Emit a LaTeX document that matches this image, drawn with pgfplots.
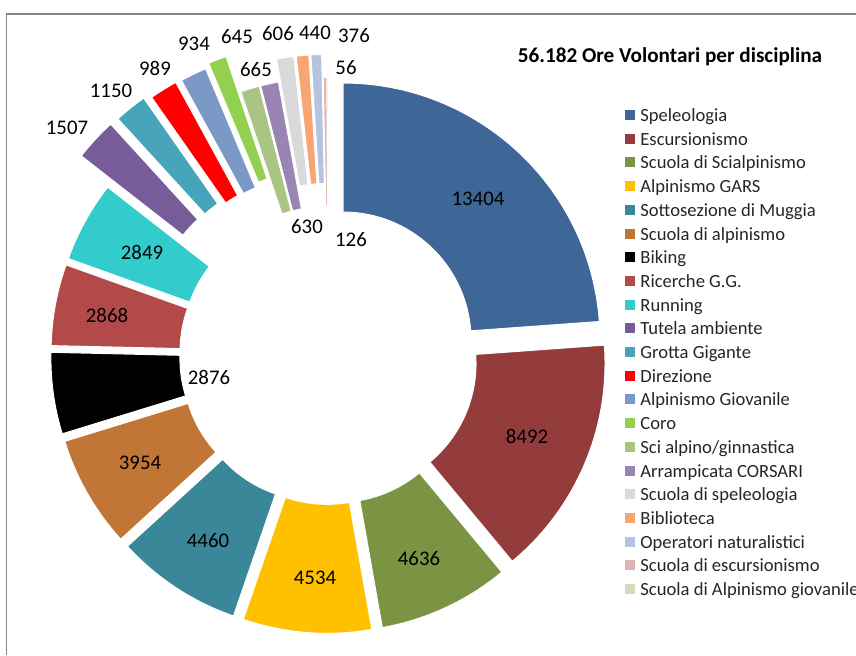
\documentclass[border=0pt]{standalone}
\usepackage{pgfplots}
\pgfplotsset{compat=1.18}
\usepackage{pgfplotstable}
\usepackage{fontspec}
\setmainfont{Carlito}
\definecolor{c1}{HTML}{3E6696}
\definecolor{c2}{HTML}{943C3C}
\definecolor{c3}{HTML}{7A9444}
\definecolor{c4}{HTML}{FFC000}
\definecolor{c5}{HTML}{3A879A}
\definecolor{c6}{HTML}{C27636}
\definecolor{c7}{HTML}{000000}
\definecolor{c8}{HTML}{B34A4A}
\definecolor{c9}{HTML}{33CCCC}
\definecolor{c10}{HTML}{775C99}
\definecolor{c11}{HTML}{47A4BA}
\definecolor{c12}{HTML}{FF0000}
\definecolor{c13}{HTML}{7B99C6}
\definecolor{c14}{HTML}{92D050}
\definecolor{c15}{HTML}{AAC483}
\definecolor{c16}{HTML}{9A84B4}
\definecolor{c17}{HTML}{D9D9D9}
\definecolor{c18}{HTML}{F7A673}
\definecolor{c19}{HTML}{B3C3E0}
\definecolor{c20}{HTML}{DDB4B3}
\definecolor{c21}{HTML}{D0DEBB}
\newcommand\lblfont{\fontsize{10.4}{12}\selectfont}
\newcommand\legfont{\fontsize{9.3}{11}\selectfont}
\newcommand\titfont{\fontsize{10.6}{12}\selectfont\bfseries}
\pgfplotstableread[col sep=comma]{
name,value,explode,col,lx,ly
Speleologia,13404,21,c1,478,198
Escursionismo,8492,21,c2,527,436
Scuola di Scialpinismo,4636,21,c3,419,558
Alpinismo GARS,4534,21,c4,315,577
Sottosezione di Muggia,4460,21,c5,208,540
Scuola di alpinismo,3954,21,c6,140,462
Biking,2876,21,c7,209,377
Ricerche G.G.,2868,21,c8,107,315
Running,2849,21,c9,142,252
Tutela ambiente,1507,61,c10,67,127
Grotta Gigante,1150,60,c11,111,90
Direzione,989,56,c12,155,68
Alpinismo Giovanile,934,55,c13,194,43
Coro,645,59,c14,237,36
Sci alpino/ginnastica,665,21,c15,256,69
Arrampicata CORSARI,630,21,c16,307,226
Scuola di speleologia,606,44,c17,278,33
Biblioteca,440,44,c18,315,32
Operatori naturalistici,376,44,c19,354,35
Scuola di escursionismo,126,21,c20,351,239
Scuola di Alpinismo giovanile,56,21,c21,346,67
}\donut
\begin{document}
\begin{tikzpicture}
\begin{axis}[
  x=0.5pt, y=0.5pt,
  xmin=0, xmax=856, ymin=0, ymax=655,
  hide axis, clip=false,
]
\coordinate (LL) at (axis cs:0,0);
\coordinate (UR) at (axis cs:856,655);
\draw[color=black!48, line width=0.6pt] (axis cs:6.5,0) -- (axis cs:6.5,641) -- (axis cs:856,641);
\node[anchor=base, font=\titfont, inner sep=0pt] at (axis cs:670,592.5) {56.182 Ore Volontari per disciplina};
\pgfplotstablegetrowsof{\donut}
\pgfmathtruncatemacro{\N}{\pgfplotsretval-1}
\def\tot{0}
\pgfplotsforeachungrouped \i in {0,...,\N}{%
  \pgfplotstablegetelem{\i}{value}\of{\donut}\let\v\pgfplotsretval
  \pgfmathsetmacro{\tot}{\tot+\v/1000}%
}
\def\cum{0}
\pgfplotsforeachungrouped \i in {0,...,\N}{%
  \pgfplotstablegetelem{\i}{value}\of{\donut}\let\v\pgfplotsretval
  \pgfplotstablegetelem{\i}{explode}\of{\donut}\let\e\pgfplotsretval
  \pgfplotstablegetelem{\i}{col}\of{\donut}\let\col\pgfplotsretval
  \pgfplotstablegetelem{\i}{name}\of{\donut}\let\nm\pgfplotsretval
  \pgfplotstablegetelem{\i}{lx}\of{\donut}\let\lx\pgfplotsretval
  \pgfplotstablegetelem{\i}{ly}\of{\donut}\let\ly\pgfplotsretval
  \pgfmathsetmacro{\aA}{90-360*(\cum/\tot)}%
  \pgfmathsetmacro{\cum}{\cum+\v/1000}%
  \pgfmathsetmacro{\aB}{90-360*(\cum/\tot)}%
  \pgfmathsetmacro{\am}{(\aA+\aB)/2}%
  \pgfmathsetmacro{\X}{328.7+\e*cos(\am)}%
  \pgfmathsetmacro{\Y}{299.6+\e*sin(\am)}%
  \pgfmathsetmacro{\xo}{\X+257*cos(\aA)}%
  \pgfmathsetmacro{\yo}{\Y+257*sin(\aA)}%
  \pgfmathsetmacro{\xi}{\X+128*cos(\aB)}%
  \pgfmathsetmacro{\yi}{\Y+128*sin(\aB)}%
  \pgfmathsetmacro{\lyy}{655-\ly-7}%
  \pgfmathsetmacro{\gy}{655-115-23.7*\i}%
  \pgfmathsetmacro{\gyl}{\gy-5}%
  \pgfmathsetmacro{\gyh}{\gy+5}%
  \pgfmathsetmacro{\gyb}{\gy-6.5}%
  \edef\temp{%
    \noexpand\fill[\col, draw=white, line width=0.5pt] (axis cs:\xo,\yo)
      arc[start angle=\aA, end angle=\aB, radius=128.5pt]
      -- (axis cs:\xi,\yi)
      arc[start angle=\aB, end angle=\aA, radius=64pt] -- cycle;
    \noexpand\node[anchor=base, inner sep=0pt, font=\noexpand\lblfont] at (axis cs:\lx,\lyy) {\v};
    \noexpand\fill[\col] (axis cs:625,\gyl) rectangle (axis cs:635,\gyh);
    \noexpand\node[anchor=base west, inner sep=0pt, font=\noexpand\legfont, text=black!85] at (axis cs:640,\gyb) {\nm};
  }\temp
}
\end{axis}
\pgfresetboundingbox
\path (LL) rectangle (UR);
\end{tikzpicture}
\end{document}
